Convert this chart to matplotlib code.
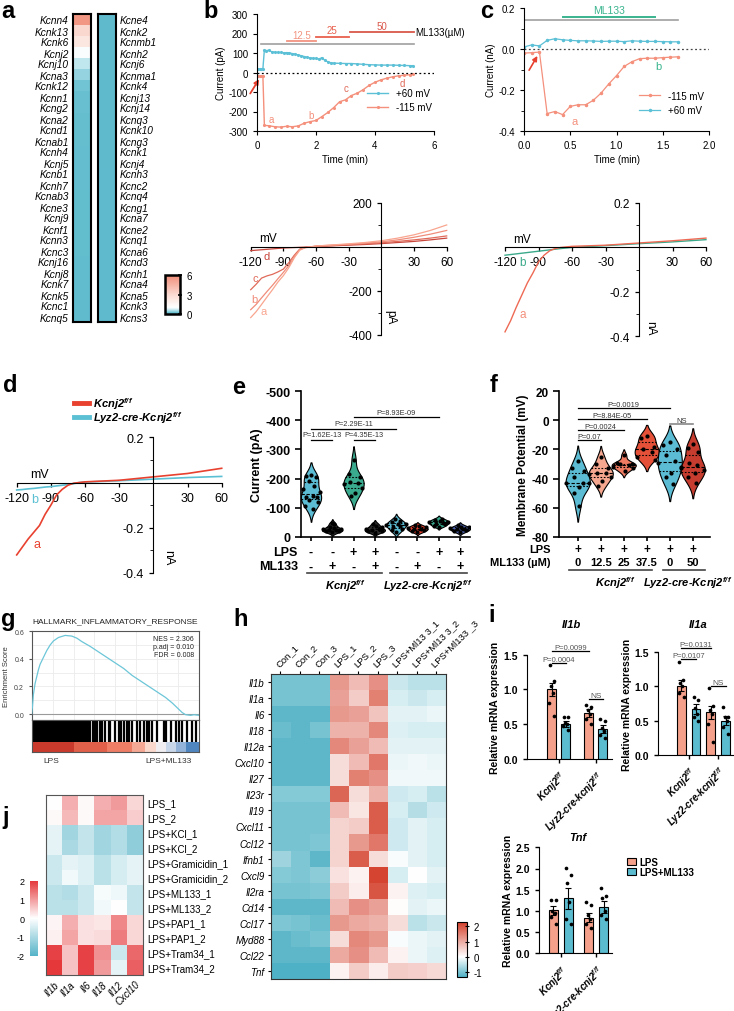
import numpy as np
import matplotlib
matplotlib.use('Agg')
import matplotlib.pyplot as plt
from matplotlib import transforms
from matplotlib.colors import LinearSegmentedColormap
from matplotlib.patches import FancyArrowPatch, Rectangle
from matplotlib.lines import Line2D

plt.rcParams['font.family'] = ['Liberation Sans', 'DejaVu Sans']
plt.rcParams['mathtext.fontset'] = 'custom'
plt.rcParams['mathtext.rm'] = 'Liberation Sans:italic:bold'
plt.rcParams['mathtext.it'] = 'Liberation Sans:italic:bold'
plt.rcParams['mathtext.bf'] = 'Liberation Sans:italic:bold'
plt.rcParams['axes.unicode_minus'] = False

# ---------------- DATA ----------------
# panel a
a_left_genes = ['Kcnn4', 'Kcnk13', 'Kcnk6', 'Kcnj2', 'Kcnj10', 'Kcna3', 'Kcnk12', 'Kcnn1', 'Kcng2', 'Kcna2',
                'Kcnd1', 'Kcnab1', 'Kcnh4', 'Kcnj5', 'Kcnb1', 'Kcnh7', 'Kcnab3', 'Kcne3', 'Kcnj9', 'Kcnf1',
                'Kcnn3', 'Kcnc3', 'Kcnj16', 'Kcnj8', 'Kcnk7', 'Kcnk5', 'Kcnc1', 'Kcnq5']
a_left_vals = [5.6, 3.0, 2.3, 1.0, 0.62, 0.4, 0.25, 0.2, 0.19, 0.18, 0.17, 0.17, 0.16, 0.16, 0.15, 0.15,
               0.14, 0.14, 0.13, 0.13, 0.12, 0.12, 0.11, 0.11, 0.1, 0.1, 0.09, 0.09]
a_right_genes = ['Kcne4', 'Kcnk2', 'Kcnmb1', 'Kcnh2', 'Kcnj6', 'Kcnma1', 'Kcnk4', 'Kcnj13', 'Kcnj14', 'Kcnq3',
                 'Kcnk10', 'Kcng3', 'Kcnk1', 'Kcnj4', 'Kcnh3', 'Kcnc2', 'Kcnq4', 'Kcng1', 'Kcna7', 'Kcne2',
                 'Kcnq1', 'Kcna6', 'Kcnd3', 'Kcnh1', 'Kcna4', 'Kcna5', 'Kcnk3', 'Kcns3']
a_right_vals = [0.06, 0.06, 0.06, 0.05, 0.05, 0.05, 0.05, 0.05, 0.05, 0.05, 0.05, 0.05, 0.05, 0.05,
                0.04, 0.04, 0.04, 0.04, 0.04, 0.04, 0.04, 0.04, 0.04, 0.04, 0.04, 0.04, 0.04, 0.04]

# panel b (time course)
b_t_pos = [0, 0.05, 0.1, 0.15, 0.2, 0.25, 0.3, 0.4, 0.5, 0.6, 0.7, 0.8, 0.9, 1.0, 1.1, 1.2, 1.3, 1.4, 1.5,
           1.6, 1.7, 1.8, 1.9, 2.0, 2.1, 2.2, 2.3, 2.4, 2.5, 2.6, 2.8, 3.0, 3.2, 3.4, 3.6, 3.8, 4.0, 4.2,
           4.4, 4.6, 4.8, 5.0, 5.2, 5.3]
b_pos = [18, 18, 18, 19, 20, 116, 112, 114, 106, 104, 103, 103, 101, 102, 100, 97, 94, 90, 86, 82, 78, 75,
         73, 72, 69, 76, 62, 55, 50, 48, 47, 46, 46, 44, 42, 40, 39, 38, 38, 38, 37, 36, 35, 35]
b_t_neg = [0, 0.05, 0.1, 0.15, 0.2, 0.25, 0.4, 0.6, 0.8, 1.0, 1.2, 1.4, 1.6, 1.8, 2.0, 2.2, 2.4, 2.6, 2.8,
           3.0, 3.2, 3.4, 3.6, 3.8, 4.0, 4.2, 4.4, 4.6, 4.8, 5.0, 5.2, 5.3]
b_neg = [-20, -20, -19, -19, -20, -271, -273, -278, -280, -276, -278, -274, -260, -252, -246, -226, -205,
         -180, -150, -140, -118, -106, -88, -66, -50, -38, -29, -22, -17, -14, -11, -9]

# panel c (time course)
c_t = [0, 0.083, 0.167, 0.25, 0.333, 0.417, 0.5, 0.583, 0.667, 0.75, 0.833, 0.917, 1.0, 1.083, 1.167,
       1.25, 1.333, 1.417, 1.5, 1.583, 1.667]
c_neg = [-0.02, -0.018, -0.015, -0.315, -0.305, -0.32, -0.28, -0.272, -0.272, -0.25, -0.215, -0.17, -0.13,
         -0.085, -0.062, -0.047, -0.045, -0.045, -0.042, -0.04, -0.038]
c_pos = [0.01, 0.02, 0.015, 0.042, 0.05, 0.045, 0.042, 0.04, 0.04, 0.039, 0.037, 0.038, 0.038, 0.036, 0.04,
         0.038, 0.037, 0.037, 0.036, 0.035, 0.035]

# panel b lower IV (pA)
ivb_v = [-120, -115, -110, -105, -100, -95, -90, -85, -80, -75, -70, -65, -60, -45, -30, -15, 0, 15, 30, 45, 60]
ivb_a = [-322, -295, -262, -228, -195, -160, -131, -95, -50, -15, -4, 0, 4, 9, 14, 20, 28, 40, 55, 75, 100]
ivb_b = [-286, -262, -232, -203, -175, -145, -116, -85, -45, -13, -3, 0, 4, 8, 12, 17, 23, 32, 44, 58, 75]
ivb_c = [-195, -170, -142, -132, -125, -114, -101, -72, -38, -10, -2, 0, 3, 6, 10, 14, 19, 25, 32, 40, 50]
ivb_d = [-17, -15, -13, -11, -9, -7, -5, -4, -3, -2, -1, 0, 2, 5, 8, 11, 15, 20, 25, 32, 40]

# panel c lower IV (nA)
ivc_v = [-120, -115, -110, -105, -100, -95, -90, -85, -80, -75, -70, -60, -30, 0, 30, 60]
ivc_a = [-0.38, -0.33, -0.27, -0.215, -0.16, -0.115, -0.065, -0.035, -0.015, -0.005, 0.0, 0.005, 0.01,
         0.02, 0.03, 0.042]
ivc_b = [-0.035, -0.032, -0.029, -0.026, -0.023, -0.02, -0.017, -0.014, -0.011, -0.008, -0.005, 0.0,
         0.008, 0.017, 0.025, 0.035]

# panel d IV (nA)
ivd_v = [-120, -115, -110, -105, -100, -95, -90, -85, -80, -75, -70, -65, -60, -30, 0, 30, 60]
ivd_wt = [-0.32, -0.285, -0.25, -0.22, -0.19, -0.14, -0.1, -0.055, -0.03, -0.012, -0.003, 0.0, 0.003,
          0.01, 0.025, 0.04, 0.063]
ivd_ko = [-0.033, -0.031, -0.028, -0.026, -0.023, -0.02, -0.018, -0.015, -0.012, -0.009, -0.005, 0.0,
          0.002, 0.008, 0.015, 0.022, 0.027]

# panel e violins (pA)
e_groups = [
    [-212, -208, -205, -193, -175, -164, -152, -141, -135, -135, -127, -118, -107, -95],
    [-15, -18, -20, -22, -22, -25, -28, -30, -35, -42, -48],
    [-265, -215, -204, -189, -185, -180, -166, -150, -141],
    [-14, -18, -20, -22, -25, -28, -32, -38, -45],
    [-15, -22, -28, -32, -38, -40, -42, -45, -50, -55, -62],
    [-15, -20, -22, -25, -28, -30, -33, -36, -40],
    [-35, -38, -42, -45, -48, -50, -52, -55, -58, -62],
    [-15, -20, -22, -25, -28, -30, -32, -35, -40],
]
e_lps = ['-', '-', '+', '+', '-', '-', '+', '+']
e_ml = ['-', '+', '-', '+', '-', '+', '-', '+']

# panel f violins (mV)
f_groups = [
    [-28, -33, -35, -39, -43, -43, -43, -46, -50, -59],
    [-25, -30, -33, -36, -36, -37, -39, -42, -45],
    [-24, -29, -30, -30, -31, -32, -33, -35],
    [-11, -12, -18, -20, -22, -25, -27],
    [-15, -17, -20, -24, -28, -29, -32, -36, -39, -44],
    [-16, -19, -22, -29, -31, -33, -34, -36, -39, -43],
]
f_ml = ['0', '12.5', '25', '37.5', '0', '50']

# panel g
g_x = [0, 0.005, 0.01, 0.02, 0.03, 0.04, 0.05, 0.07, 0.09, 0.11, 0.13, 0.16, 0.2, 0.24, 0.27, 0.3, 0.35,
       0.4, 0.45, 0.5, 0.55, 0.6, 0.65, 0.7, 0.75, 0.8, 0.84, 0.87, 0.9, 0.92, 0.95, 0.97, 1.0]
g_es = [0, 0.06, 0.14, 0.22, 0.27, 0.32, 0.36, 0.41, 0.46, 0.5, 0.53, 0.555, 0.57, 0.565, 0.55, 0.525,
        0.49, 0.45, 0.41, 0.37, 0.33, 0.28, 0.24, 0.2, 0.16, 0.12, 0.08, 0.045, 0.01, -0.005, -0.01, -0.005,
        -0.01]
g_hits = [0.0, 0.008, 0.016, 0.022, 0.03, 0.038, 0.045, 0.052, 0.06, 0.068, 0.075, 0.085, 0.093, 0.1, 0.108,
          0.115, 0.122, 0.13, 0.138, 0.147, 0.155, 0.163, 0.17, 0.178, 0.186, 0.195, 0.203, 0.212, 0.22,
          0.23, 0.24, 0.25, 0.258, 0.268, 0.28, 0.29, 0.3, 0.31, 0.325, 0.335, 0.35, 0.365, 0.38, 0.39,
          0.41, 0.42, 0.44, 0.46, 0.47, 0.5, 0.52, 0.535, 0.55, 0.57, 0.58, 0.6, 0.63, 0.65, 0.67, 0.69,
          0.7, 0.72, 0.75, 0.79, 0.8, 0.83, 0.86, 0.88, 0.9, 0.93, 0.96, 0.98]
g_seg_edges = [0, 0.25, 0.45, 0.6, 0.68, 0.74, 0.8, 0.86, 0.92, 1.0]
g_seg_cols = ['#c93a2c', '#e0604a', '#ee7e66', '#f5a893', '#fbd8cc', '#f1eef2', '#c9d7ea', '#93b3d8', '#4f86c0']

# panel h heatmap
h_rows = ['Il1b', 'Il1a', 'Il6', 'Il18', 'Il12a', 'Cxcl10', 'Il27', 'Il23r', 'Il19', 'Cxcl11', 'Ccl12',
          'Ifnb1', 'Cxcl9', 'Il2ra', 'Cd14', 'Ccl17', 'Myd88', 'Ccl22', 'Tnf']
h_cols = ['Con_1', 'Con_2', 'Con_3', 'LPS_1', 'LPS_2', 'LPS_3', 'LPS+Ml13 3_1', 'LPS+Ml13 3_2', 'LPS+Ml133 _3']
h_vals = [
    [-1.0, -1.0, -1.0, 1.2, 0.8, 1.3, -0.4, -0.5, -0.5],
    [-1.0, -1.0, -1.0, 1.1, 0.6, 1.5, -0.3, -0.4, -0.3],
    [-1.2, -1.2, -1.2, 1.2, 1.1, 0.7, -0.2, -0.2, -0.15],
    [-1.1, -1.2, -1.0, 0.9, 0.9, 1.4, -0.25, -0.3, -0.3],
    [-1.2, -1.2, -1.2, 1.4, 1.1, 0.8, -0.2, -0.2, -0.2],
    [-1.2, -1.2, -1.2, 0.4, 0.8, 1.6, -0.15, -0.1, -0.15],
    [-1.2, -1.2, -1.2, 0.4, 1.5, 1.3, -0.1, -0.1, -0.1],
    [-0.9, -0.9, -0.9, 1.8, 0.4, 0.9, -0.35, -0.3, -0.5],
    [-1.0, -1.0, -1.0, 0.8, 0.3, 1.9, -0.3, -0.55, -0.35],
    [-1.0, -1.0, -1.0, 0.5, 0.6, 1.9, -0.35, -0.2, -0.3],
    [-1.0, -1.0, -0.95, 0.5, 1.2, 1.6, -0.35, -0.2, -0.3],
    [-0.7, -0.95, -1.2, 0.5, 1.9, 0.4, -0.05, -0.2, -0.3],
    [-0.9, -0.95, -0.85, 0.35, 0.15, 2.2, -0.3, 0.0, -0.2],
    [-1.0, -1.0, -0.95, 0.6, 0.2, 2.0, 0.15, -0.25, -0.3],
    [-1.2, -1.2, -1.2, 0.8, 1.3, 1.1, 0.02, -0.2, -0.15],
    [-0.95, -1.0, -1.1, 1.2, 1.0, 0.9, 0.4, -0.5, -0.4],
    [-1.2, -1.1, -1.0, 0.4, 1.4, 1.2, -0.05, -0.15, -0.2],
    [-1.2, -1.2, -1.2, 1.0, 1.3, 0.8, 0.15, -0.15, -0.25],
    [-1.3, -1.3, -1.3, 0.15, 0.6, 0.2, 0.6, 0.55, 0.45],
]

# panel i bars
i_il1b_mean = [1.0, 0.5, 0.66, 0.43]
i_il1b_sem = [0.1, 0.04, 0.06, 0.06]
i_il1b_pts = [[1.35, 1.12, 1.05, 0.95, 0.8, 0.62], [0.6, 0.6, 0.52, 0.5, 0.48, 0.42],
              [0.78, 0.75, 0.7, 0.65, 0.58, 0.5], [0.57, 0.55, 0.45, 0.4, 0.35, 0.3]]
i_il1a_mean = [1.01, 0.67, 0.62, 0.5]
i_il1a_sem = [0.08, 0.07, 0.1, 0.06]
i_il1a_pts = [[1.36, 1.1, 1.05, 1.0, 0.9, 0.85], [0.85, 0.8, 0.68, 0.6, 0.55, 0.5],
              [0.97, 0.72, 0.65, 0.6, 0.45, 0.18], [0.7, 0.55, 0.55, 0.5, 0.4, 0.3]]
i_tnf_mean = [1.01, 1.3, 0.84, 1.1]
i_tnf_sem = [0.1, 0.25, 0.1, 0.14]
i_tnf_pts = [[1.25, 1.25, 1.0, 0.95, 0.85, 0.7], [2.02, 1.85, 1.65, 1.2, 0.8, 0.7],
             [1.2, 1.15, 0.9, 0.8, 0.7, 0.6], [1.55, 1.35, 1.3, 1.0, 0.9, 0.8]]

# panel j heatmap
j_rows = ['LPS_1', 'LPS_2', 'LPS+KCl_1', 'LPS+KCl_2', 'LPS+Gramicidin_1', 'LPS+Gramicidin_2',
          'LPS+ML133_1', 'LPS+ML133_2', 'LPS+PAP1_1', 'LPS+PAP1_2', 'LPS+Tram34_1', 'LPS+Tram34_2']
j_cols = ['Il1b', 'Il1a', 'Il6', 'Il18', 'Il12', 'Cxcl10']
j_vals = [
    [0.0, 0.8, 0.05, 0.8, 1.0, 0.4],
    [0.05, 0.7, 0.05, 0.9, 0.9, 0.5],
    [-0.3, -1.1, -0.7, -1.1, -0.9, -1.3],
    [-0.3, -1.0, -0.7, -1.1, -0.9, -1.3],
    [-0.6, -0.3, -0.4, -0.8, -0.5, -0.3],
    [-0.6, -0.15, -0.4, -0.8, -0.5, -0.3],
    [-0.8, -0.9, -0.6, -0.1, -0.2, -0.7],
    [-0.8, -0.8, -0.6, -0.15, 0.0, -0.7],
    [0.1, 0.8, 0.3, 0.25, 1.2, 0.4],
    [0.15, 0.9, 0.3, 0.35, 1.3, 0.4],
    [1.9, 0.6, 1.9, 1.1, -0.6, 1.5],
    [2.0, 0.6, 1.9, 1.0, -0.3, 1.6],
]

# ---------------- FIGURE ----------------
W, H = 734, 1012
fig = plt.figure(figsize=(W / 100, H / 100), dpi=100)
PX = transforms.Affine2D().scale(1.0 / W, -1.0 / H).translate(0, 1) + fig.transFigure


def box(x0, y0, x1, y1):
    return fig.add_axes([x0 / W, 1 - y1 / H, (x1 - x0) / W, (y1 - y0) / H])


def ftext(x, y, s, **kw):
    fig.text(x, y, s, transform=PX, **kw)


SAL = '#f4907c'
CYAN = '#5cc0d6'

for lab, (x, y) in {'a': (1, 12), 'b': (203, 12), 'c': (480, 12), 'd': (3, 386), 'e': (232, 388),
                    'f': (490, 386), 'g': (1, 620), 'h': (233, 620), 'i': (488, 616), 'j': (2, 818)}.items():
    ftext(x, y, lab, fontsize=17, fontweight='bold', va='center', ha='left')

# ---- panel a ----
cmap_a = LinearSegmentedColormap.from_list('a', [(0, '#5dbacc'), (0.03, '#66bfcf'), (0.1, '#bfe6ee'),
                                                  (0.17, '#ffffff'), (0.5, '#fbd9d0'), (1, '#f08d78')])
for bx, vals, genes, side in (((73, 15, 91, 323), a_left_vals, a_left_genes, 'left'),
                              ((98, 15, 116, 323), a_right_vals, a_right_genes, 'right')):
    ax = box(*bx)
    im_a = ax.imshow(np.array(vals)[:, None], cmap=cmap_a, vmin=0, vmax=6, aspect='auto')
    ax.set_xticks([])
    ax.set_yticks(range(len(genes)))
    ax.set_yticklabels(genes, fontsize=7.3, style='italic')
    ax.tick_params(axis='y', length=0, pad=3)
    if side == 'right':
        ax.yaxis.tick_right()
    for s in ax.spines.values():
        s.set_linewidth(1.5)
cax_a = box(165, 276, 180, 315)
cb = fig.colorbar(im_a, cax=cax_a, ticks=[0, 3, 6])
cb.outline.set_linewidth(1.8)
cax_a.tick_params(labelsize=7, length=3, width=1.2, direction='inout')

# ---- panel b (top) ----
ax = box(257, 15, 434, 132)
ax.plot(b_t_pos, b_pos, color=CYAN, lw=1.0, marker='.', ms=2.5, label='+60 mV')
ax.plot(b_t_neg, b_neg, color=SAL, lw=1.0, marker='.', ms=2.5, label='-115 mV')
ax.axhline(0, color='black', ls=(0, (1.5, 2)), lw=0.9)
ax.plot([0.15, 5.32], [144, 144], color='#a0a0a0', lw=1.2)
for (t0, t1, yv, lab, col) in ((1.02, 1.99, 159, '12.5', '#f29480'), (1.99, 3.12, 184, '25', '#e8604d'),
                               (3.14, 5.32, 208, '50', '#d9574a')):
    ax.plot([t0, t1], [yv, yv], color=col, lw=1.3)
    ax.text((t0 + t1) / 2, yv + 6, lab, color=col, fontsize=7, ha='center', va='bottom')
ax.text(5.35, 208, 'ML133(µM)', fontsize=7, va='center', ha='left')
ax.add_patch(FancyArrowPatch((-0.28, -120), (0.12, -22), arrowstyle='-|>', mutation_scale=7, color='#e8402f',
                             lw=1.3, clip_on=False))
for lab, (tx, ty) in {'a': (0.49, -237), 'b': (1.82, -220), 'c': (3.03, -81), 'd': (4.94, -54)}.items():
    ax.text(tx, ty, lab, color=SAL if lab in 'ab' else '#e06a5a', fontsize=7, ha='center', va='center')
ax.set_xlim(0, 6)
ax.set_ylim(-300, 300)
ax.set_xticks([0, 2, 4, 6])
ax.set_yticks(range(-300, 301, 100))
ax.tick_params(labelsize=7, length=3)
ax.spines['top'].set_visible(False)
ax.spines['right'].set_visible(False)
ax.set_xlabel('Time (min)', fontsize=7, labelpad=3)
ax.set_ylabel('Current (pA)', fontsize=7, labelpad=2)
ax.legend(loc='upper left', bbox_to_anchor=(0.6, 0.4), fontsize=7, frameon=False, handlelength=2.2,
          borderaxespad=0, labelspacing=0.4)

# ---- panel c (top) ----
ax = box(524, 9, 709, 132)
ax.plot(c_t, c_neg, color=SAL, lw=0.9, marker='.', ms=3, label='-115 mV')
ax.plot(c_t, c_pos, color=CYAN, lw=0.9, marker='.', ms=3, label='+60 mV')
ax.axhline(0, color='#444444', ls=(0, (1.5, 2)), lw=0.9)
ax.plot([0, 1.67], [0.14, 0.14], color='#a0a0a0', lw=1.2)
ax.plot([0.42, 1.42], [0.158, 0.158], color='#3ab48e', lw=1.4)
ax.text(0.92, 0.168, 'ML133', color='#3ab48e', fontsize=7.5, ha='center', va='bottom')
ax.add_patch(FancyArrowPatch((0.04, -0.115), (0.16, -0.022), arrowstyle='-|>', mutation_scale=7,
                             color='#e8402f', lw=1.2))
ax.text(0.55, -0.35, 'a', color=SAL, fontsize=8, ha='center', va='center')
ax.text(1.45, -0.082, 'b', color='#3ab48e', fontsize=8, ha='center', va='center')
ax.set_xlim(0, 2)
ax.set_ylim(-0.4, 0.2)
ax.set_xticks([0, 0.5, 1.0, 1.5, 2.0])
ax.set_xticklabels(['0.0', '0.5', '1.0', '1.5', '2.0'])
ax.set_yticks([-0.4, -0.2, 0.0, 0.2])
ax.set_yticklabels(['-0.4', '-0.2', '0.0', '0.2'])
ax.set_yticks([-0.3, -0.1, 0.1], minor=True)
ax.tick_params(labelsize=7, length=3)
ax.tick_params(which='minor', length=2)
ax.spines['top'].set_visible(False)
ax.spines['right'].set_visible(False)
ax.set_xlabel('Time (min)', fontsize=7, labelpad=3)
ax.set_ylabel('Current (nA)', fontsize=7, labelpad=2)
ax.legend(loc='upper left', bbox_to_anchor=(0.6, 0.36), fontsize=7, frameon=False, handlelength=2.2,
          borderaxespad=0, labelspacing=0.5)


def iv_axes(ax, ylim, yticks, ylabels, minor, fs):
    ax.set_xlim(-120, 60)
    ax.set_ylim(*ylim)
    ax.spines['left'].set_position(('data', 0))
    ax.spines['bottom'].set_position(('data', 0))
    ax.spines['top'].set_visible(False)
    ax.spines['right'].set_visible(False)
    ax.set_xticks([-120, -90, -60, -30, 30, 60])
    ax.set_yticks(yticks)
    ax.set_yticklabels(ylabels)
    ax.set_yticks(minor, minor=True)
    ax.tick_params(labelsize=fs, length=3, width=0.9)
    ax.tick_params(which='minor', length=2)
    ax.patch.set_alpha(0)


# ---- panel b lower IV ----
ax = box(250.7, 204, 446.7, 335.7)
for vals, col in ((ivb_d, '#c8463c'), (ivb_c, '#e06a5a'), (ivb_b, '#f08c7a'), (ivb_a, '#f9a58f')):
    ax.plot(ivb_v, vals, color=col, lw=0.9, clip_on=False)
iv_axes(ax, (-400, 200), [-400, -200, 200], ['-400', '-200', '200'], [-300, -100, 100], 8.5)
ax.text(-112, 12, 'mV', fontsize=8.5, ha='left', va='bottom')
ax.text(3, -315, 'pA', fontsize=8.5, rotation=-90, ha='left', va='center')
for lab, (vx, vy), col in (('a', (-108, -291), '#f9a58f'), ('b', (-117, -237), '#f08c7a'),
                           ('c', (-116, -143), '#e06a5a'), ('d', (-105, -40), '#c8463c')):
    ax.text(vx, vy, lab, color=col, fontsize=8, ha='center', va='center')

# ---- panel c lower IV ----
ax = box(505, 204, 706, 337.3)
ax.plot(ivc_v, ivc_b, color='#3aa98a', lw=1.0, clip_on=False)
ax.plot(ivc_v, ivc_a, color='#ee6a55', lw=1.0, clip_on=False)
iv_axes(ax, (-0.4, 0.2), [-0.4, -0.2, 0.2], ['-0.4', '-0.2', '0.2'], [-0.3, -0.1, 0.1], 8.5)
ax.text(-113, 0.012, 'mV', fontsize=8.5, ha='left', va='bottom')
ax.text(5, -0.36, 'nA', fontsize=8.5, rotation=-90, ha='left', va='center')
ax.text(-104, -0.066, 'b', color='#3aa98a', fontsize=8.5, ha='center', va='center')
ax.text(-104, -0.3, 'a', color=SAL, fontsize=8.5, ha='center', va='center')

# ---- panel d IV ----
ax = box(16.7, 438.3, 221.7, 574)
ax.plot(ivd_v, ivd_ko, color='#5bc0d3', lw=1.2, clip_on=False)
ax.plot(ivd_v, ivd_wt, color='#e8412f', lw=1.2, clip_on=False)
iv_axes(ax, (-0.4, 0.2), [-0.4, -0.2, 0.2], ['-0.4', '-0.2', '0.2'], [-0.3, -0.1, 0.1], 9)
ax.text(-108, 0.012, 'mV', fontsize=9, ha='left', va='bottom')
ax.text(8, -0.33, 'nA', fontsize=9, rotation=-90, ha='left', va='center')
ax.text(-102, -0.27, 'a', color='#e8412f', fontsize=9, ha='center', va='center')
ax.text(-104, -0.074, 'b', color='#5bc0d3', fontsize=9, ha='center', va='center')
fig.add_artist(Line2D([74, 89], [404.3, 404.3], transform=PX, color='#e8412f', lw=3.5))
fig.add_artist(Line2D([74, 89], [418.3, 418.3], transform=PX, color='#5bc0d3', lw=3.5))
ftext(93, 404.3, r'Kcnj2$^{f/f}$', fontsize=8, fontweight='bold', style='italic', va='center')
ftext(93, 418.3, r'Lyz2-cre-Kcnj2$^{f/f}$', fontsize=8, fontweight='bold', style='italic', va='center')


def violin(ax, x, data, color, width, bwf=0.9):
    d = np.asarray(data, float)
    sd = d.std(ddof=1)
    bw = 1.06 * sd * len(d) ** (-0.2) * bwf
    ys = np.linspace(d.min() - 2.0 * bw, d.max() + 2.0 * bw, 300)
    dens = np.exp(-0.5 * ((ys[:, None] - d[None, :]) / bw) ** 2).sum(1)
    dens = dens / dens.max() * width / 2
    ax.fill_betweenx(ys, x - dens, x + dens, facecolor=color, edgecolor='black', lw=0.8, zorder=2)
    q1, med, q3 = np.percentile(d, [25, 50, 75])
    for q, ls in ((q1, (0, (1.5, 1.5))), (med, (0, (3, 1.5))), (q3, (0, (1.5, 1.5)))):
        w = np.interp(q, ys, dens)
        ax.plot([x - w, x + w], [q, q], color='black', ls=ls, lw=0.8, zorder=3)
    pattern = [0.0, -0.45, 0.45, -0.2, 0.25, -0.6, 0.6, 0.1, -0.3, 0.35, -0.1, 0.5, -0.5, 0.2]
    offs = np.array([pattern[k % len(pattern)] for k in range(len(d))])
    wloc = np.interp(d, ys, dens)
    ax.scatter(x + offs * wloc * 1.6, d, s=9, color='black', zorder=4, linewidths=0)


def bracket(ax, x1, x2, y, txt, fs=5.3, color='#333333', dy=0):
    ax.plot([x1, x2], [y, y], color='black', lw=0.9, clip_on=False)
    ax.text((x1 + x2) / 2, y + dy, txt, fontsize=fs, color=color, ha='center', va='bottom', clip_on=False)


# ---- panel e ----
ax = box(301, 392.3, 470, 537.7)
e_cols = ['#5bbcd3', '#303030', '#3aaa8e', '#303030', '#5bbcd3', '#e8412f', '#3aaa8e', '#4a5fa8']
for k, (d, c) in enumerate(zip(e_groups, e_cols)):
    violin(ax, k + 1, d, c, 0.95)
ax.set_xlim(0.53, 8.47)
ax.set_ylim(0, -500)
ax.set_yticks(range(0, -501, -100))
ax.set_xticks(range(1, 9))
ax.set_xticklabels([])
ax.tick_params(axis='y', labelsize=9, length=4, width=1.2)
ax.tick_params(axis='x', length=3, width=1.2)
for t in ax.get_yticklabels():
    t.set_fontweight('bold')
ax.spines['top'].set_visible(False)
ax.spines['right'].set_visible(False)
ax.spines['left'].set_linewidth(1.2)
ax.spines['bottom'].set_linewidth(1.2)
ax.set_ylabel('Current (pA)', fontsize=9, fontweight='bold', labelpad=2)
bracket(ax, 1, 2, -332, 'P=1.62E-13', dy=-6)
bracket(ax, 3, 4, -332, 'P=4.35E-13', dy=-6)
bracket(ax, 1, 5, -370, 'P=2.29E-11', dy=-6)
bracket(ax, 3, 7, -410, 'P=8.93E-09', dy=-6)
tr = transforms.blended_transform_factory(ax.transData, PX)
for k in range(8):
    ax.text(k + 1, 552.7, e_lps[k], transform=tr, fontsize=9, fontweight='bold', ha='center', va='center')
    ax.text(k + 1, 567.3, e_ml[k], transform=tr, fontsize=9, fontweight='bold', ha='center', va='center')
ftext(298, 552.7, 'LPS', fontsize=9, fontweight='bold', ha='right', va='center')
ftext(298, 567.3, 'ML133', fontsize=9, fontweight='bold', ha='right', va='center')
fig.add_artist(Line2D([307, 381.7], [574, 574], transform=PX, color='#444444', lw=1.2))
fig.add_artist(Line2D([390, 467.3], [574, 574], transform=PX, color='#444444', lw=1.2))
ftext(345, 586, r'Kcnj2$^{f/f}$', fontsize=8, fontweight='bold', style='italic', ha='center', va='center')
ftext(428, 586, r'Lyz2-cre-Kcnj2$^{f/f}$', fontsize=8, fontweight='bold', style='italic', ha='center',
      va='center')

# ---- panel f ----
ax = box(559.3, 392.3, 710, 537.7)
f_cols = ['#5bbcd3', '#f6a78f', '#ee7b62', '#e55038', '#5bbcd3', '#c63d2f']
for k, (d, c) in enumerate(zip(f_groups, f_cols)):
    violin(ax, k + 1, d, c, 1.05)
ax.set_xlim(0.2, 6.75)
ax.set_ylim(-80, 20)
ax.set_yticks(range(-80, 21, 20))
ax.set_xticks(range(1, 7))
ax.set_xticklabels([])
ax.tick_params(axis='y', labelsize=8.5, length=4, width=1.2)
ax.tick_params(axis='x', length=3, width=1.2)
for t in ax.get_yticklabels():
    t.set_fontweight('bold')
ax.spines['top'].set_visible(False)
ax.spines['right'].set_visible(False)
ax.spines['left'].set_linewidth(1.2)
ax.spines['bottom'].set_linewidth(1.2)
ax.set_ylabel('Membrane Potential (mV)', fontsize=8.5, fontweight='bold', labelpad=2)
bracket(ax, 1, 2, -13.5, 'P=0.07')
bracket(ax, 1, 3, -6.4, 'P=0.0024')
bracket(ax, 1, 4, 1, 'P=8.84E-05')
bracket(ax, 1, 5, 8.3, 'P=0.0019')
ax.plot([5, 6], [-2.5, -2.5], color='#888888', lw=1.2)
ax.text(5.5, -2.5, 'NS', fontsize=5.5, color='#333333', ha='center', va='bottom')
tr = transforms.blended_transform_factory(ax.transData, PX)
for k in range(6):
    ax.text(k + 1, 550, '+', transform=tr, fontsize=8.5, fontweight='bold', ha='center', va='center')
    ax.text(k + 1, 563, f_ml[k], transform=tr, fontsize=8, fontweight='bold', ha='center', va='center')
ftext(551, 550, 'LPS', fontsize=8, fontweight='bold', ha='right', va='center')
ftext(551, 563, 'ML133 (µM)', fontsize=8, fontweight='bold', ha='right', va='center')
fig.add_artist(Line2D([569.3, 652.3], [571, 571], transform=PX, color='#444444', lw=1.2))
fig.add_artist(Line2D([663.3, 705], [571, 571], transform=PX, color='#444444', lw=1.2))
ftext(615, 583.5, r'Kcnj2$^{f/f}$', fontsize=8, fontweight='bold', style='italic', ha='center', va='center')
ftext(688, 583.5, r'Lyz2-cre-Kcnj2$^{f/f}$', fontsize=8, fontweight='bold', style='italic', ha='center',
      va='center')

# ---- panel g ----
ax = box(31.7, 632, 199, 721)
ax.plot(g_x, g_es, color='#6cc6d8', lw=0.9, zorder=3)
ax.axhline(0, color='#9a9a9a', lw=0.8, zorder=2)
ax.set_xlim(0, 1)
ax.set_ylim(-0.0435, 0.602)
ax.set_yticks([0.0, 0.2, 0.4, 0.6])
ax.set_yticklabels(['0.0', '0.2', '0.4', '0.6'])
ax.set_yticks([0.1, 0.3, 0.5], minor=True)
ax.set_xticks([0.125, 0.375, 0.625, 0.875])
ax.set_xticks([0.25, 0.5, 0.75], minor=True)
ax.grid(True, which='both', color='#ebebeb', lw=0.6)
ax.set_axisbelow(True)
ax.tick_params(axis='x', which='both', length=0, labelbottom=False)
ax.tick_params(axis='y', which='major', labelsize=5, length=2, color='#555555', labelcolor='#444444')
ax.tick_params(axis='y', which='minor', length=0)
for s in ax.spines.values():
    s.set_color('#555555')
    s.set_linewidth(0.8)
ax.set_ylabel('Enrichment Score', fontsize=5.5, labelpad=3, color='#333333')
ax.text(0.97, 0.955, 'NES = 2.306\np.adj = 0.010\nFDR = 0.008', transform=ax.transAxes, fontsize=5,
        ha='right', va='top', color='#222222', linespacing=1.15)
ftext(115, 622, 'HALLMARK_INFLAMMATORY_RESPONSE', fontsize=6, ha='center', va='center', color='#222222')
axb = box(31.7, 721, 199, 752.7)
axb.set_xlim(0, 1)
axb.set_ylim(0, 1)
axb.vlines(g_hits, 0.3, 1.0, color='black', lw=1.6)
for k in range(len(g_seg_cols)):
    axb.axvspan(g_seg_edges[k], g_seg_edges[k + 1], 0, 0.3, color=g_seg_cols[k], lw=0)
axb.set_xticks([])
axb.set_yticks([])
for s in axb.spines.values():
    s.set_color('#555555')
    s.set_linewidth(0.8)
ftext(51.7, 761.7, 'LPS', fontsize=6, ha='center', va='center', color='#333333')
ftext(168, 761.7, 'LPS+ML133', fontsize=6, ha='center', va='center', color='#333333')

# ---- panel h ----
cmap_h = LinearSegmentedColormap.from_list('h', [(0, '#4cb0c4'), (1.33 / 3.59, '#ffffff'), (1, '#d4402c')])
ax = box(270.7, 675, 446, 980)
im_h = ax.imshow(np.array(h_vals), cmap=cmap_h, vmin=-1.33, vmax=2.26, aspect='auto')
ax.set_yticks(range(len(h_rows)))
ax.set_yticklabels(h_rows, fontsize=7, style='italic')
ax.xaxis.tick_top()
ax.set_xticks(range(len(h_cols)))
ax.set_xticklabels(h_cols, fontsize=6.8, rotation=45, ha='left', rotation_mode='anchor')
ax.tick_params(length=2.5, width=0.8, pad=2)
for s in ax.spines.values():
    s.set_linewidth(0.8)
    s.set_color('#333333')
cax_h = box(456.7, 923.3, 466.7, 978.3)
cb = fig.colorbar(im_h, cax=cax_h, ticks=[-1, 0, 1, 2])
cb.outline.set_linewidth(0.8)
cax_h.tick_params(labelsize=7, length=2.5, direction='inout')

# ---- panel i ----
C_LPS = '#f4a08a'
C_ML = '#5bbcd0'


def bar_panel(bx, xlim, dx, bw, means, sems, pts, title, ylim, yticks, ytl, title_y):
    ax = box(*bx)
    pos = [-dx, dx, 1 - dx, 1 + dx]
    ax.bar(pos, means, width=bw, color=[C_LPS, C_ML, C_LPS, C_ML], edgecolor='black', lw=0.8, zorder=1)
    ax.errorbar(pos, means, yerr=sems, fmt='none', ecolor='black', elinewidth=0.8, capsize=2,
                capthick=0.8, zorder=3)
    offs = [-0.25, 0.25, -0.12, 0.12, -0.28, 0.28]
    for p, vals in zip(pos, pts):
        ax.scatter([p + offs[k] * bw for k in range(len(vals))], vals, s=7, color='black', zorder=4,
                   linewidths=0)
    ax.set_xlim(*xlim)
    ax.set_ylim(*ylim)
    ax.set_yticks(yticks)
    ax.set_yticklabels(ytl)
    ax.set_xticks([0, 1])
    ax.set_xticklabels([r'Kcnj2$^{f/f}$', r'Lyz2-cre-kcnj2$^{f/f}$'], rotation=45, ha='right',
                       rotation_mode='anchor', fontsize=7, fontweight='bold', style='italic')
    ax.tick_params(axis='y', labelsize=7.5, length=3, width=1)
    ax.tick_params(axis='x', length=3, width=1)
    for t in ax.get_yticklabels():
        t.set_fontweight('bold')
    ax.spines['top'].set_visible(False)
    ax.spines['right'].set_visible(False)
    ax.set_ylabel('Relative mRNA expression', fontsize=7.5, fontweight='bold', labelpad=2)
    return ax, pos


ax, p = bar_panel((526.7, 655.7, 612, 760), (-0.87, 1.44), 0.19, 0.25, i_il1b_mean, i_il1b_sem, i_il1b_pts,
                  'Il1b', (0, 1.5), [0, 0.5, 1.0, 1.5], ['0.0', '0.5', '1.0', '1.5'], 625)
bracket(ax, p[0], p[1], 1.376, 'P=0.0004', fs=5.5, color='#555555')
bracket(ax, p[0], p[2], 1.55, 'P=0.0099', fs=5.5, color='#555555')
bracket(ax, p[2], p[3], 0.86, 'NS', fs=6, color='#555555')
ftext(571.7, 625, 'Il1b', fontsize=8, fontweight='bold', style='italic', ha='center', va='center')
ax, p = bar_panel((658.3, 653.3, 734, 755.7), (-1.02, 1.53), 0.25, 0.3, i_il1a_mean, i_il1a_sem, i_il1a_pts,
                  'Il1a', (0, 1.5), [0, 0.5, 1.0, 1.5], ['0.0', '0.5', '1.0', '1.5'], 625)
bracket(ax, p[0], p[1], 1.40, 'P=0.0107', fs=5.5, color='#555555')
bracket(ax, p[0], p[2], 1.56, 'P=0.0131', fs=5.5, color='#555555')
bracket(ax, p[2], p[3], 1.01, 'NS', fs=6, color='#555555')
ftext(698, 625, 'Il1a', fontsize=8, fontweight='bold', style='italic', ha='center', va='center')
ax, p = bar_panel((539.3, 848.3, 612, 954.3), (-0.61, 1.45), 0.21, 0.26, i_tnf_mean, i_tnf_sem, i_tnf_pts,
                  'Tnf', (0, 2.5), [0, 0.5, 1.0, 1.5, 2.0, 2.5], ['0.0', '0.5', '1.0', '1.5', '2.0', '2.5'], 838)
ftext(578, 838, 'Tnf', fontsize=8, fontweight='bold', style='italic', ha='center', va='center')
fig.add_artist(Rectangle((627, 859.5), 9, 7, transform=PX, facecolor=C_LPS, edgecolor='black', lw=0.8))
fig.add_artist(Rectangle((627, 869.5), 9, 7, transform=PX, facecolor=C_ML, edgecolor='black', lw=0.8))
ftext(639, 863, 'LPS', fontsize=7, fontweight='bold', va='center')
ftext(639, 873, 'LPS+ML133', fontsize=7, fontweight='bold', va='center')

# ---- panel j ----
cmap_j = LinearSegmentedColormap.from_list('j', [(0, '#56b4c8'), (0.5, '#ffffff'), (1, '#e5383b')])
ax = box(45.7, 795.7, 142.7, 975.7)
im_j = ax.imshow(np.array(j_vals), cmap=cmap_j, vmin=-2, vmax=2, aspect='auto')
ax.yaxis.tick_right()
ax.set_yticks(range(len(j_rows)))
ax.set_yticklabels(j_rows, fontsize=7)
ax.set_xticks(range(len(j_cols)))
ax.set_xticklabels(j_cols, fontsize=7, style='italic', rotation=45, ha='right', rotation_mode='anchor')
ax.tick_params(length=0, pad=3)
for s in ax.spines.values():
    s.set_linewidth(0.8)
    s.set_color('#555555')
cax_j = box(30, 881.7, 37.7, 956.7)
cb = fig.colorbar(im_j, cax=cax_j, ticks=[-2, -1, 0, 1, 2])
cb.outline.set_visible(False)
cax_j.yaxis.tick_left()
cax_j.tick_params(labelsize=6.5, length=0, pad=4)

fig.savefig('out.png', dpi=100)
